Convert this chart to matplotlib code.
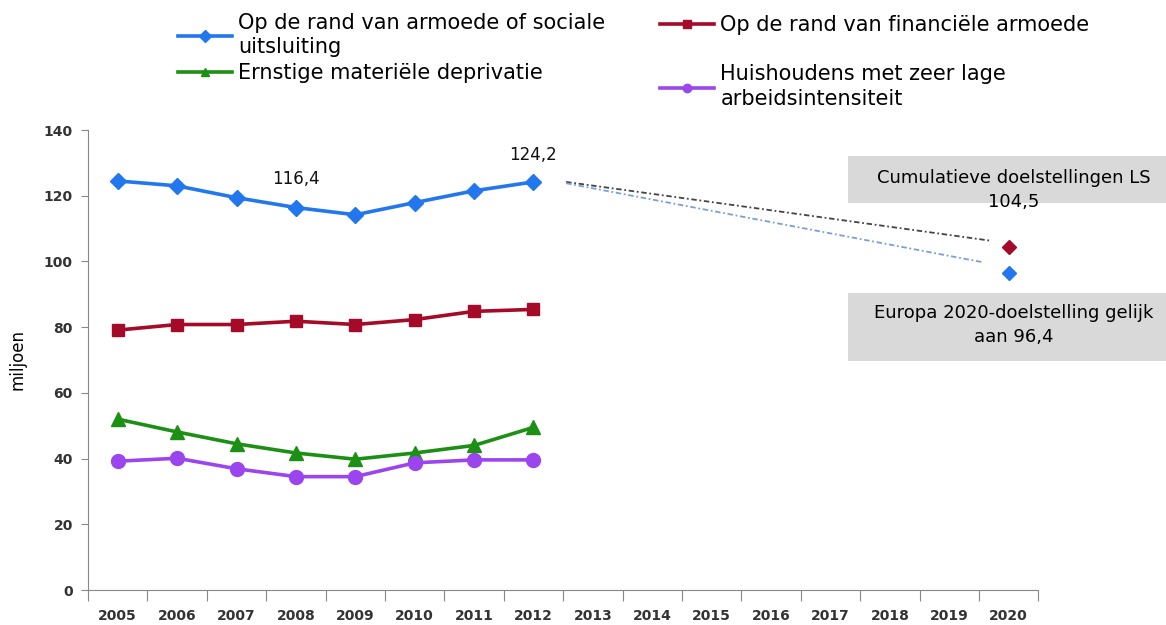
import numpy as np
import matplotlib
matplotlib.use("Agg")
import matplotlib.pyplot as plt
from matplotlib.patches import Rectangle

# data
years = [str(y) for y in range(2005, 2021)]
arope = [124.5, 123.0, 119.4, 116.4, 114.2, 117.9, 121.5, 124.2]
financieel = [79.1, 80.8, 80.8, 81.8, 80.8, 82.3, 84.8, 85.4]
deprivatie = [52.0, 48.1, 44.5, 41.7, 39.8, 41.7, 44.0, 49.5]
huishoudens = [39.2, 40.1, 36.9, 34.5, 34.5, 38.7, 39.6, 39.6]
doel_ls = 104.5
doel_eu = 96.4
# trend lines from 2012 towards the 2020 targets (start / end in year position)
trend_x = [7.55, 14.7]
trend_ls = [124.2, 106.3]
trend_eu_x = [7.55, 14.55]
trend_eu = [123.8, 99.8]

labels = ["Op de rand van armoede of sociale\nuitsluiting",
          "Op de rand van financiële armoede",
          "Ernstige materiële deprivatie",
          "Huishoudens met zeer lage\narbeidsintensiteit"]
colors = ["#2277ee", "#a50a28", "#1c9014", "#9b45ee"]
markers = ["D", "s", "^", "o"]
msizes = [8, 9, 10, 10]

plt.rcParams['font.family'] = ['DejaVu Sans']

fig = plt.figure(figsize=(11.66, 6.25), dpi=100)
ax = fig.add_axes([0.0755, 0.056, 0.815, 0.736])
ax.patch.set_visible(False)

x = np.arange(len(arope))
lines = []
for vals, c, m, ms in zip([arope, financieel, deprivatie, huishoudens], colors, markers, msizes):
    ln, = ax.plot(x, vals, color=c, lw=2.6, marker=m, ms=ms, mec=c, zorder=3)
    lines.append(ln)

# trend lines and targets
ax.plot(trend_x, trend_ls, color="#444444", lw=1.3, ls=(0, (3, 1.5, 1, 1.5)), zorder=2)
ax.plot(trend_eu_x, trend_eu, color="#7a9fd6", lw=1.3, ls=(0, (3, 1.5, 1, 1.5)), zorder=2)
ax.plot([15], [doel_ls], marker="D", ms=7, color="#a50a28", ls="none")
ax.plot([15], [doel_eu], marker="D", ms=7, color="#2277ee", ls="none")

# data labels
ax.text(3, 122.5, "116,4", ha="center", va="bottom", fontsize=12, color="#111111")
ax.text(7, 129.5, "124,2", ha="center", va="bottom", fontsize=12, color="#111111")

ax.set_xlim(-0.5, 15.5)
ax.set_ylim(0, 140)
ax.set_yticks(np.arange(0, 141, 20))
ax.set_xticks(np.arange(-0.5, 16, 1))
ax.set_xticklabels([])
ax.set_xticks(np.arange(16), minor=True)
ax.set_xticklabels(years, minor=True)
ax.tick_params(axis="x", which="major", length=8, color="#888888", direction="out")
ax.tick_params(axis="x", which="minor", length=0, pad=14, labelsize=10, labelcolor="#333333")
ax.tick_params(axis="y", length=5, color="#888888", labelsize=10, labelcolor="#333333", pad=6)
for lab in ax.get_xticklabels(minor=True) + ax.get_yticklabels():
    lab.set_fontweight("bold")
for s in ["top", "right"]:
    ax.spines[s].set_visible(False)
for s in ["left", "bottom"]:
    ax.spines[s].set_color("#888888")
ax.set_ylabel("miljoen", fontsize=12, labelpad=12)

# gray annotation boxes (reach outside the axes)
fig.add_artist(Rectangle((0.727, 0.675), 0.273, 0.075, transform=fig.transFigure,
                         facecolor="#d9d9d9", edgecolor="none", zorder=-1))
fig.add_artist(Rectangle((0.727, 0.422), 0.273, 0.109, transform=fig.transFigure,
                         facecolor="#d9d9d9", edgecolor="none", zorder=-1))
fig.text(0.8696, 0.715, "Cumulatieve doelstellingen LS", ha="center", va="center", fontsize=13)
fig.text(0.8696, 0.677, "104,5", ha="center", va="center", fontsize=13)
fig.text(0.8696, 0.499, "Europa 2020-doelstelling gelijk", ha="center", va="center", fontsize=13)
fig.text(0.8696, 0.461, "aan 96,4", ha="center", va="center", fontsize=13)

# legend, one box per entry so the rows line up like the original
leg_pos = [(0.1527, 0.944), (0.566, 0.96), (0.1527, 0.883), (0.566, 0.861)]
for ln, lab, pos in zip(lines, labels, leg_pos):
    proxy = plt.Line2D([], [], color=ln.get_color(), lw=2.6, marker=ln.get_marker(), ms=6)
    leg = fig.legend([proxy], [lab], loc="center left", bbox_to_anchor=pos, frameon=False,
                     fontsize=15, handlelength=2.6, handletextpad=0.3, borderpad=0,
                     borderaxespad=0, numpoints=1)
    for t in leg.get_texts():
        t.set_linespacing(1.3)

fig.savefig("out.png", dpi=100)
